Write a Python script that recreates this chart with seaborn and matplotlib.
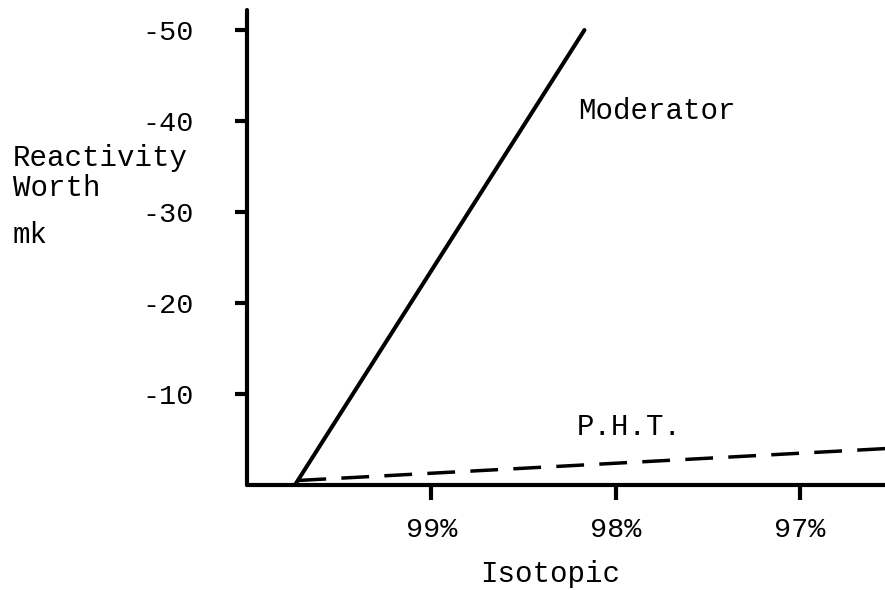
import matplotlib
matplotlib.use("Agg")
import matplotlib.pyplot as plt
import seaborn as sns
import pandas as pd

# ---- data ----
moderator_x = [99.74, 98.17]
moderator_y = [0.0, -50.0]
pht_x = [99.72, 96.54]
pht_y = [-0.5, -4.0]
x_ticks = [99, 98, 97]
x_tick_labels = ["99%", "98%", "97%"]
y_ticks = [-50, -40, -30, -20, -10]
y_tick_labels = ["-50", "-40", "-30", "-20", "-10"]

sns.set_theme(style="white")
plt.rcParams['font.family'] = ['Liberation Mono', 'DejaVu Sans Mono']
plt.rcParams['text.color'] = 'black'
plt.rcParams['xtick.color'] = 'black'
plt.rcParams['ytick.color'] = 'black'

fig = plt.figure(figsize=(8.85, 5.9), dpi=100)
ax = fig.add_axes([247/885, 1 - 485/590, 1 - 247/885, (485 - 10)/590])

mod_df = pd.DataFrame({"x": moderator_x, "y": moderator_y})
pht_df = pd.DataFrame({"x": pht_x, "y": pht_y})

sns.lineplot(data=mod_df, x="x", y="y", ax=ax, color="black", linewidth=2.9,
             solid_capstyle="round")
sns.lineplot(data=pht_df, x="x", y="y", ax=ax, color="black", linewidth=2.5,
             linestyle=(0, (8.0, 4.4)))

ax.set_xlim(100, 96.54)
ax.set_ylim(0, -52.2)

for s in ["top", "right"]:
    ax.spines[s].set_visible(False)
for s in ["left", "bottom"]:
    ax.spines[s].set_color("black")
    ax.spines[s].set_linewidth(3.0)
    ax.spines[s].set_capstyle("round")

ax.set_xticks(x_ticks)
ax.set_xticklabels(x_tick_labels)
ax.set_yticks(y_ticks)
ax.set_yticklabels(y_tick_labels)
ax.tick_params(axis="x", direction="out", length=11, width=3.0, pad=12,
               labelsize=20.5, labelcolor="black", color="black", bottom=True)
ax.tick_params(axis="y", direction="out", length=9, width=3.0, pad=29,
               labelsize=20.5, labelcolor="black", color="black", left=True)
ax.set_xlabel("")
ax.set_ylabel("")
ax.grid(False)

fs = 21
txt_kw = dict(fontsize=fs, va="baseline", ha="left", color="black")
fig.text(13/885, 1 - 166/590, "Reactivity", **txt_kw)
fig.text(13/885, 1 - 196/590, "Worth", **txt_kw)
fig.text(13/885, 1 - 243/590, "mk", **txt_kw)
fig.text(578/885, 1 - 119/590, "Moderator", **txt_kw)
fig.text(577/885, 1 - 435/590, "P.H.T.", **txt_kw)
fig.text(480/885, 1 - 582/590, "Isotopic", **txt_kw)

fig.savefig("out.png", dpi=100)
